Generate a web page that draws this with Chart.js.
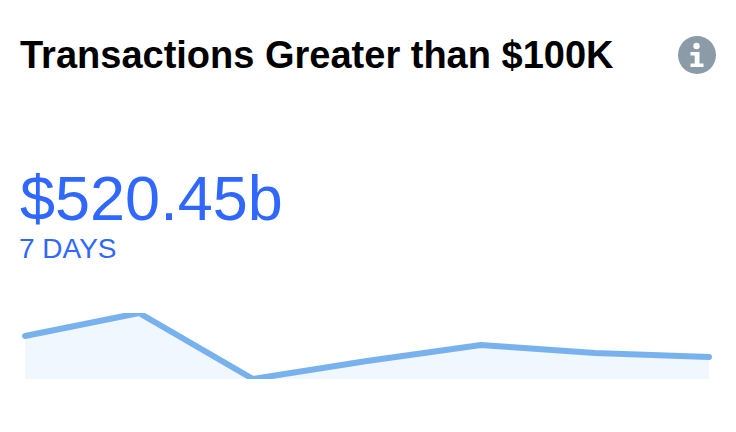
<!DOCTYPE html>
<html>
<head>
<meta charset="utf-8">
<script src="https://cdn.jsdelivr.net/npm/chart.js@4"></script>
<style>
  html, body { margin: 0; padding: 0; background: #fff; }
  body { position: relative; width: 736px; height: 432px; overflow: hidden; font-family: "Liberation Sans", Arial, sans-serif; }
  .title { position: absolute; left: 20px; top: 35px; font-size: 38px; line-height: 40px; font-weight: bold; color: #000; white-space: nowrap; }
  .info { position: absolute; left: 678px; top: 36px; }
  .amount { position: absolute; left: 20px; top: 162px; font-size: 63px; line-height: 72px; color: #3068ff; white-space: nowrap; }
  .period { position: absolute; left: 19px; top: 233px; font-size: 28px; line-height: 31px; color: #3068ff; white-space: nowrap; }
  #spark { position: absolute; left: 0; top: 303px; }
</style>
</head>
<body>
<div class="title">Transactions Greater than $100K</div>
<svg class="info" width="38" height="38" viewBox="0 0 38 38">
  <circle cx="19" cy="19" r="19" fill="#8b9ba8"/>
  <circle cx="18.5" cy="10" r="3.2" fill="#fff"/>
  <path d="M12.5 16h9v11.5h4V31h-13v-3.5h4.2v-8h-4.2z" fill="#fff"/>
</svg>
<div class="amount">$520.45b</div>
<div class="period">7 DAYS</div>
<canvas id="spark" width="736" height="86"></canvas>
<script>
const days = ["Day 1", "Day 2", "Day 3", "Day 4", "Day 5", "Day 6", "Day 7"];
const volumes = [43, 66, 0, 18, 34, 26, 22];

const lineBlue = "#78b2ee";
const fillBlue = "#f0f7ff";

new Chart(document.getElementById("spark"), {
  type: "line",
  data: {
    labels: days,
    datasets: [
      {
        label: "Volume",
        data: volumes,
        borderColor: lineBlue,
        backgroundColor: fillBlue,
        borderWidth: 6,
        borderCapStyle: "round",
        borderJoinStyle: "round",
        fill: "origin",
        tension: 0,
        pointRadius: 0,
        // flat at the top and bottom of the plot, but keep the round ends
        clip: { left: 5, right: 5, top: 0, bottom: 0 },
      },
    ],
  },
  options: {
    responsive: false,
    animation: false,
    layout: {
      padding: { left: 25, right: 27, top: 10, bottom: 10 },
    },
    plugins: {
      legend: { display: false },
      title: { display: false },
      tooltip: { enabled: false },
    },
    scales: {
      x: { display: false },
      y: { display: false, min: 0, max: 66 },
    },
  },
});
</script>
</body>
</html>
